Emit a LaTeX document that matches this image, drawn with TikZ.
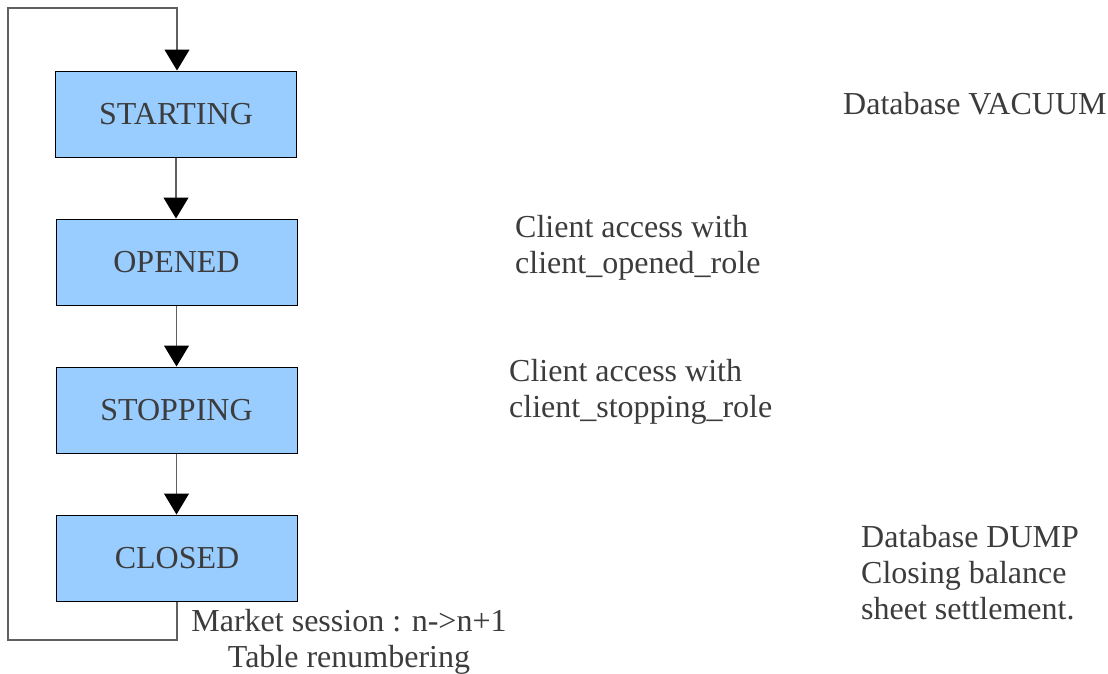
\documentclass[tikz,border=0pt]{standalone}
\usepackage{fontspec}
\setmainfont{Liberation Serif}
\usetikzlibrary{arrows.meta}
\definecolor{boxfill}{HTML}{99CCFF}
\definecolor{txt}{HTML}{3C3C3C}
\definecolor{conn}{HTML}{606060}
\begin{document}
\begin{tikzpicture}[x=1pt,y=-1pt,
  state/.style={draw=black,line width=1pt,fill=boxfill,minimum width=241pt,minimum height=86pt,inner sep=0pt,font=\fontsize{32}{36}\selectfont,text=txt},
  note/.style={align=left,inner sep=0pt,font=\fontsize{32}{36}\selectfont,text=txt,anchor=base west},
  flow/.style={draw=conn,line width=1.2pt,-{Triangle[width=25pt,length=21pt,color=black]}}]
\useasboundingbox (0,0) rectangle (1108,673);
\node[state] (start) at (176,114) {STARTING};
\node[state] (opened) at (176.5,262) {OPENED};
\node[state] (stopping) at (176.5,410) {STOPPING};
\node[state] (closed) at (177,558) {CLOSED};
\draw[flow] (start.south) -- (start.south |- opened.north);
\draw[flow] (opened.south) -- (opened.south |- stopping.north);
\draw[flow] (stopping.south) -- (stopping.south |- closed.north);
\coordinate (lb) at (8,640);
\coordinate (lt) at (8,8);
\draw[flow] (closed.south) -- (closed.south |- lb) -- (lb) -- (lt) -- (lt -| closed.south) -- (closed.south |- start.north);
\node[note] (vacuum) at (843,114) {Database VACUUM};
\node[note] (opnote) at (515,273) {Client access with\\client\_opened\_role};
\node[note] (stnote) at (509,417) {Client access with\\client\_stopping\_role};
\node[note] (dump) at (861,619) {Database DUMP\\Closing balance\\sheet settlement.};
\node[note,align=center,anchor=base] (session) at (349,667) {Market session : n->n+1\\Table renumbering};
\end{tikzpicture}
\end{document}
